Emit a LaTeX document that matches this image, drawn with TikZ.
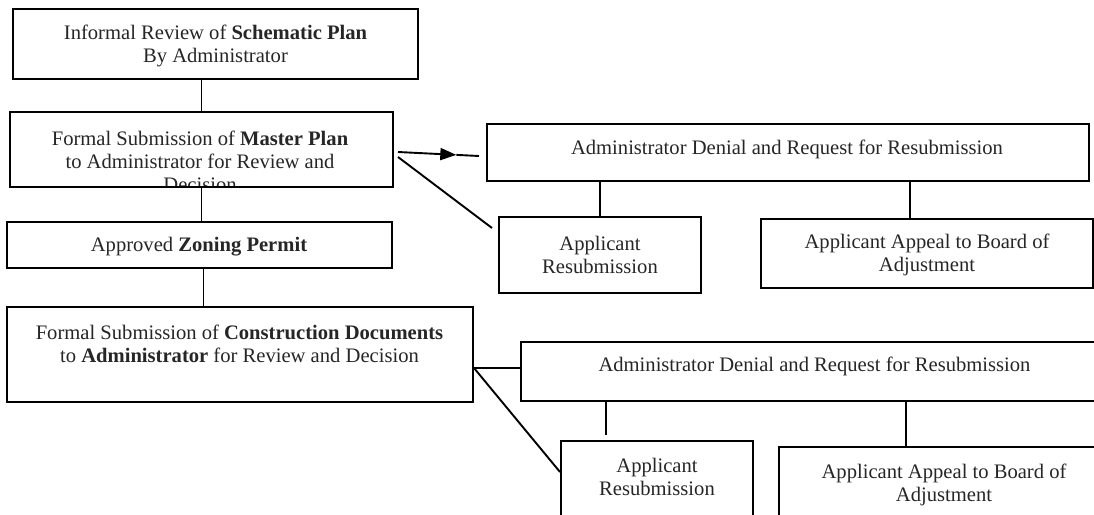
\documentclass[tikz,border=0pt]{standalone}
\usepackage{fontspec}
\setmainfont{Liberation Serif}
\usetikzlibrary{calc,arrows.meta}
\begin{document}
\begin{tikzpicture}[x=1pt,y=-1pt,
  box/.style={draw=black,line width=2pt,inner sep=0pt},
  txt/.style={align=center,font=\fontsize{20.6}{23}\selectfont,inner sep=0pt,text=black!85},
  conn/.style={draw=black,line width=1.9pt}]
\clip (0,0) rectangle (1094,514);
\fill[white] (0,0) rectangle (1094,514);
% boxes
\node[box,minimum width=405pt,minimum height=70pt] (b1) at (215.5,44) {};
\node[box,minimum width=383pt,minimum height=75pt] (b2) at (201.5,149.5) {};
\node[box,minimum width=602pt,minimum height=57pt] (b3) at (788,152.5) {};
\node[box,minimum width=202pt,minimum height=76pt] (b4) at (600,255) {};
\node[box,minimum width=332pt,minimum height=69pt] (b5) at (927,253.5) {};
\node[box,minimum width=385pt,minimum height=46pt] (b6) at (199.5,245) {};
\node[box,minimum width=466pt,minimum height=95pt] (b7) at (240,354.5) {};
\node[box,minimum width=579pt,minimum height=59pt] (b8) at (810.5,371.5) {};
\node[box,minimum width=192pt,minimum height=79pt] (b9) at (657,480.5) {};
\node[box,minimum width=321pt,minimum height=73pt] (b10) at (939.5,483.5) {};
% texts
\node[txt] (t1) at (215.5,46) {Informal Review of \textbf{Schematic Plan}\\By Administrator};
\begin{scope}
\clip (b2.north west) rectangle ($(b2.south east)+(0,-3)$);
\node[txt] (t2) at (200,161.5) {Formal Submission of \textbf{Master Plan}\\to Administrator for Review and\\Decision};
\end{scope}
\node[txt] (t3) at (787,149) {Administrator Denial and Request for Resubmission};
\node[txt] (t4) at (600,255) {Applicant\\Resubmission};
\node[txt] (t5) at (927,255) {Applicant Appeal to Board of\\Adjustment};
\node[txt] (t6) at (199,247) {Approved \textbf{Zoning Permit}};
\node[txt] (t7) at (239.5,343.5) {Formal Submission of \textbf{Construction Documents}\\to \textbf{Administrator} for Review and Decision};
\node[txt] (t8) at (814.5,366) {Administrator Denial and Request for Resubmission};
\node[txt] (t9) at (657,477) {Applicant\\Resubmission};
\node[txt] (t10) at (944,484.5) {Applicant Appeal to Board of\\Adjustment};
% connectors
\draw[conn] (b2.north |- b1.south) -- (b2.north);
\draw[conn] (b2.south) -- (b2.south |- b6.north);
\draw[conn] ($(b6.south)+(4,0)$) coordinate (c67) -- (c67 |- b7.north);
\coordinate (a0) at ($(b2.east)+(4,2.5)$);
\coordinate (a2) at ($(b3.west)+(-7,3.5)$);
\coordinate (a1) at ($(a0)!0.72!(a2)$);
\draw[conn,-{Triangle[length=16pt,width=12pt]}] (a0) -- (a1);
\draw[conn] (a1) -- (a2);
\draw[conn] ($(b2.east)+(4,7.5)$) -- ($(b4.north west)+(-6,12)$);
\draw[conn] (b4.north |- b3.south) -- (b4.north);
\draw[conn] ($(b5.north west)+(150,0)$) coordinate (c35) -- (c35 |- b3.south);
\draw[conn] ($(b8.west)+(0,-3.5)$) coordinate (c78) -- (c78 -| b7.east);
\draw[conn] (c78 -| b7.east) -- ($(b9.west)+(0,-8.5)$);
\draw[conn] ($(b9.north west)+(46,-5)$) coordinate (c89) -- (c89 |- b8.south);
\draw[conn] ($(b10.north west)+(128,0)$) coordinate (c810) -- (c810 |- b8.south);
\end{tikzpicture}
\end{document}
